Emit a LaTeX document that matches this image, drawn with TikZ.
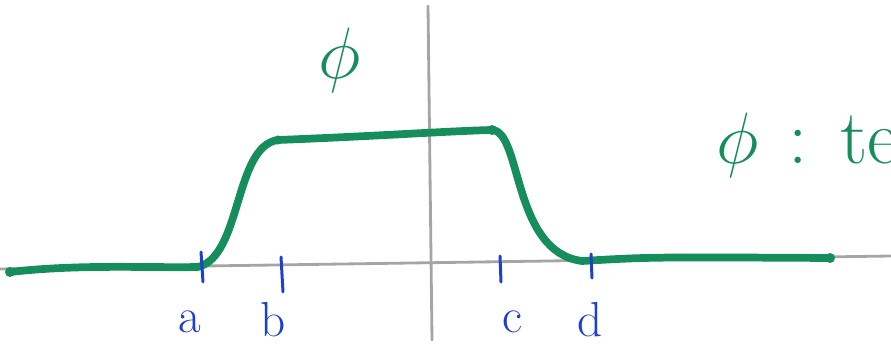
\documentclass[tikz,border=0pt]{standalone}
\usepackage{amsmath}
\usepackage{xcolor}
\definecolor{penGreen}{RGB}{22,142,92}
\definecolor{penBlue}{RGB}{30,62,205}
\definecolor{axisGray}{RGB}{165,165,165}
\tikzset{
  axis/.style={line width=1.6pt, axisGray, line cap=round},
  testfn/.style={line width=4.4pt, penGreen, line cap=round, line join=round},
  tick/.style={line width=1.7pt, penBlue, line cap=round},
  ticklabel/.style={penBlue, font=\fontsize{28}{32}\selectfont},
  fnlabel/.style={penGreen, font=\fontsize{22}{26}\selectfont, scale=2}
}
\begin{document}
\begin{tikzpicture}[x=0.02cm, y=-0.02cm]
    \useasboundingbox (0,0) rectangle (891,350);

         % Axes
         \draw[axis] (0,269) -- (891,256);
         \draw[axis] (428,6) -- (432,340);

         % Test function
         \draw[testfn] (10,272) .. controls (80,264) and (150,268) .. (198,267)
             .. controls (242,256) and (234,146) .. (278,140)
             .. controls (380,136) and (450,131) .. (492,130)
             .. controls (522,131) and (512,252) .. (582,261)
             .. controls (650,257) .. (830,258);
         \fill[penGreen] (10,272) circle (5);
         \fill[penGreen] (278,140) circle (4.5);
         \fill[penGreen] (492,130) circle (5);
         \fill[penGreen] (830,258) circle (5);

         % Ticks
         \draw[tick] (201,252) -- (203,282);
         \draw[tick] (281,257) -- (283,292);
         \draw[tick] (500,256) -- (501,282);
         \draw[tick] (591,254) -- (592,278);

         \node[ticklabel] (la) at (190,322) {a};
         \node[ticklabel] (lb) at (273,320) {b};
         \node[ticklabel] (lc) at (512,322) {c};
         \node[ticklabel] (ld) at (590,320) {d};

         % Labels
         \node[fnlabel] (phi) at (340,60) {$\phi$};
         \node[fnlabel, anchor=west, inner sep=0pt] (phidef) at (716,145)
             {$\phi$\hspace{0.38em}:\hspace{0.42em}test};
\end{tikzpicture}
\end{document}
